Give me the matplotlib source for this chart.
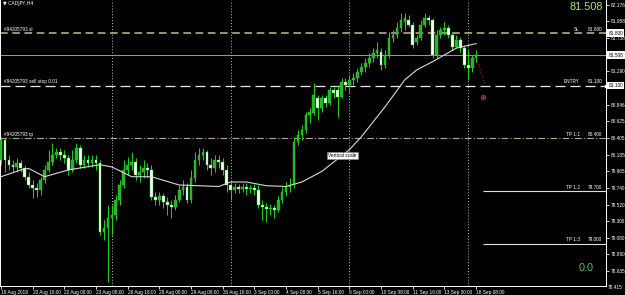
import matplotlib
matplotlib.use("Agg")
import matplotlib.pyplot as plt
import matplotlib.transforms as mtransforms
import numpy as np

# ---------------- data ----------------
symbol_label = "\u25bc CADJPY,H4"
order_id = "#94205793"

opens = [80.11, 80.38, 80.11, 80.05, 80.02, 80.07, 80.01, 79.89, 79.78, 79.74,
         79.71, 79.85, 79.98, 80.09, 80.18, 80.22, 80.18, 80.14, 79.98, 80.11,
         80.27, 80.05, 80.11, 80.07, 80.11, 80.07, 79.15, 79.21, 79.34, 79.38,
         79.58, 79.78, 79.98, 80.05, 80.09, 79.91, 79.95, 80.01, 79.98, 79.62,
         79.58, 79.63, 79.55, 79.51, 79.49, 79.58, 79.71, 79.75, 79.58, 79.87,
         80.11, 80.18, 80.22, 80.05, 80.01, 80.11, 80.09, 79.98, 79.78, 79.71,
         79.75, 79.73, 79.75, 79.73, 79.74, 79.71, 79.51, 79.49, 79.46, 79.47,
         79.45, 79.58, 79.69, 79.75, 79.78, 80.35, 80.45, 80.51, 80.71, 80.74,
         80.94, 80.80, 80.94, 80.87, 81.04, 81.04, 80.95, 81.15, 81.11, 81.18,
         81.20, 81.28, 81.35, 81.40, 81.47, 81.54, 81.55, 81.38, 81.51, 81.73,
         81.77, 81.87, 81.95, 81.97, 81.91, 81.68, 81.73, 81.91, 82.00, 81.97,
         81.51, 81.77, 81.84, 81.87, 81.77, 81.62, 81.71, 81.60, 81.38, 81.34,
         81.47]
highs = [80.42, 80.42, 80.18, 80.11, 80.14, 80.11, 80.05, 79.95, 79.85, 79.81,
         79.89, 80.05, 80.25, 80.34, 80.27, 80.27, 80.25, 80.18, 80.25, 80.34,
         80.31, 80.18, 80.18, 80.18, 80.18, 80.11, 79.31, 79.51, 79.51, 79.65,
         79.85, 80.11, 80.15, 80.22, 80.14, 80.05, 80.11, 80.07, 80.05, 79.69,
         79.69, 79.67, 79.62, 79.58, 79.65, 79.78, 79.85, 79.81, 79.98, 80.22,
         80.27, 80.27, 80.25, 80.14, 80.18, 80.18, 80.14, 80.05, 79.82, 79.81,
         79.79, 79.81, 79.81, 79.78, 79.79, 79.78, 79.58, 79.54, 79.53, 79.51,
         79.63, 79.75, 79.82, 79.87, 80.42, 80.51, 80.58, 80.75, 80.80, 81.14,
         80.98, 80.98, 80.98, 81.08, 81.08, 81.11, 81.20, 81.20, 81.24, 81.27,
         81.34, 81.40, 81.47, 81.54, 81.60, 81.68, 81.60, 81.58, 81.81, 81.84,
         81.95, 82.07, 82.07, 82.04, 81.95, 81.77, 81.97, 82.07, 82.04, 82.00,
         81.84, 81.88, 81.95, 81.91, 81.81, 81.77, 81.75, 81.64, 81.58, 81.51,
         81.58]
lows = [80.05, 79.95, 79.98, 79.95, 79.95, 79.95, 79.85, 79.74, 79.61, 79.62,
        79.65, 79.81, 79.95, 80.05, 80.14, 80.11, 80.07, 79.91, 79.95, 80.07,
        80.01, 80.01, 80.02, 80.02, 79.98, 79.11, 79.05, 78.49, 79.11, 79.31,
        79.51, 79.74, 79.91, 79.98, 79.85, 79.82, 79.87, 79.87, 79.58, 79.51,
        79.51, 79.47, 79.38, 79.34, 79.45, 79.55, 79.65, 79.54, 79.54, 79.82,
        80.05, 80.11, 79.98, 79.91, 79.95, 80.01, 79.91, 79.69, 79.58, 79.67,
        79.67, 79.69, 79.65, 79.67, 79.65, 79.47, 79.31, 79.29, 79.38, 79.34,
        79.42, 79.54, 79.63, 79.69, 79.74, 80.31, 80.38, 80.47, 80.60, 80.71,
        80.64, 80.75, 80.82, 80.84, 80.94, 80.68, 80.94, 81.04, 81.02, 81.11,
        81.15, 81.24, 81.28, 81.35, 81.42, 81.47, 81.31, 81.34, 81.47, 81.68,
        81.73, 81.81, 81.84, 81.88, 81.60, 81.64, 81.71, 81.88, 81.91, 81.47,
        81.47, 81.73, 81.77, 81.73, 81.58, 81.60, 81.55, 81.34, 81.18, 81.28,
        81.42]
closes = [80.38, 80.11, 80.05, 80.02, 80.07, 80.01, 79.89, 79.78, 79.74, 79.71,
          79.85, 79.98, 80.09, 80.18, 80.22, 80.18, 80.14, 79.98, 80.11, 80.27,
          80.05, 80.11, 80.07, 80.11, 80.07, 79.15, 79.21, 79.34, 79.38, 79.58,
          79.78, 79.98, 80.05, 80.09, 79.91, 79.95, 80.01, 79.98, 79.62, 79.58,
          79.63, 79.55, 79.51, 79.49, 79.58, 79.71, 79.75, 79.58, 79.87, 80.11,
          80.18, 80.22, 80.05, 80.01, 80.11, 80.09, 79.98, 79.78, 79.71, 79.75,
          79.73, 79.75, 79.73, 79.74, 79.71, 79.51, 79.49, 79.46, 79.47, 79.45,
          79.58, 79.69, 79.75, 79.78, 80.35, 80.45, 80.51, 80.71, 80.75, 80.98,
          80.80, 80.94, 80.87, 81.04, 81.00, 80.95, 81.15, 81.11, 81.18, 81.20,
          81.28, 81.35, 81.40, 81.47, 81.54, 81.58, 81.38, 81.51, 81.73, 81.77,
          81.87, 81.97, 82.00, 81.91, 81.64, 81.73, 81.91, 82.00, 81.97, 81.51,
          81.77, 81.84, 81.87, 81.77, 81.62, 81.71, 81.60, 81.38, 81.34, 81.47,
          81.508]

ma_bars = [0, 5, 7, 11, 17, 25, 28, 33, 38, 45, 55, 58, 62, 67, 72, 76, 81,
           88, 91, 97, 102, 105, 109, 115, 120]
ma_values = [79.89, 79.98, 80.00, 79.89, 79.98, 80.05, 80.02, 79.89, 79.89,
             79.78, 79.76, 79.82, 79.82, 79.77, 79.76, 79.82, 79.96, 80.25,
             80.42, 80.82, 81.18, 81.31, 81.42, 81.60, 81.66]

x_tick_bars = [0, 8, 16, 24, 32, 40, 48, 56, 64, 72, 80, 88, 96, 104, 112, 120]
x_tick_labels = ["19 Aug 2019", "20 Aug 16:00", "22 Aug 00:00", "23 Aug 08:00",
                 "26 Aug 16:00", "28 Aug 00:00", "29 Aug 08:00", "30 Aug 16:00",
                 "3 Sep 00:00", "4 Sep 08:00", "5 Sep 16:00", "9 Sep 00:00",
                 "10 Sep 08:00", "11 Sep 16:00", "13 Sep 00:00", "16 Sep 08:00"]
separator_bars = [28, 58, 88, 118]

y_tick_values = [82.176, 81.958, 81.738, 81.290, 80.846, 80.625, 80.405,
                 80.185, 79.965, 79.740, 79.520, 79.300, 79.080, 78.860, 78.635]
y_bottom_tick = 78.415

sl_price = 81.800
entry_price = 81.100
tp_prices = [80.400, 79.700, 79.000]
tp_names = ["TP 1:1", "TP 1:2", "TP 1:3"]
bid_price = 81.508
profit_text = "0.0"

proj_bars = [120.2, 122.2]
proj_prices = [81.46, 81.12]
target_bar = 121.8
target_price = 80.95
tp_line_start_bar = 121.7

# ---------------- figure ----------------
W, H = 625, 295
fig = plt.figure(figsize=(W / 100, H / 100), dpi=100, facecolor="black")
ax = fig.add_axes([0, 9 / H, 606 / W, 286 / H], facecolor="black")

FONT = "Liberation Sans"
small = 3.4
wick_c = "#19d619"
bull_c = "#2fae2f"
bear_c = "#ffffff"

o = np.array(opens); h = np.array(highs); l = np.array(lows); c = np.array(closes)
idx = np.arange(len(o))

# separators
for b in separator_bars:
    ax.axvline(b, color="#bfbfbf", ls=(0, (1, 2)), lw=0.7, zorder=1)

# horizontal order lines
trans = mtransforms.blended_transform_factory(ax.transAxes, ax.transData)
ax.axhline(sl_price, color="#c9b98f", ls=(0, (5, 3)), lw=1.1, zorder=1)
ax.axhline(bid_price, color="#9a9a9a", lw=0.7, zorder=1)
ax.axhline(entry_price, color="#e8e8e8", ls=(0, (8, 4)), lw=0.9, zorder=1)
ax.axhline(tp_prices[0], color="#b8a978", ls=(0, (6, 2, 1, 2)), lw=0.8, zorder=1)
for p in tp_prices[1:]:
    ax.hlines(p, tp_line_start_bar, 200, color="#e0e0e0", lw=0.8, zorder=1)

# candles
ax.vlines(idx, l, h, color=wick_c, lw=0.7, zorder=3)
bull = c >= o
bear = ~bull
ax.bar(idx[bull], np.maximum(c[bull] - o[bull], 0.006), bottom=o[bull], width=0.68,
       color=bull_c, edgecolor=wick_c, lw=0.3, zorder=4)
ax.bar(idx[bear], np.maximum(o[bear] - c[bear], 0.006), bottom=c[bear], width=0.68,
       color=bear_c, edgecolor=wick_c, lw=0.3, zorder=4)

# moving average
ax.plot(ma_bars, ma_values, color="#d8d8d8", lw=0.8, zorder=5)

# projection
ax.plot(proj_bars, proj_prices, color="#b01818", ls=(0, (1, 1.5)), lw=0.8, zorder=5)
ax.plot([target_bar], [target_price], "o", ms=3.2, mfc="none", mec="#c02828", mew=0.7, zorder=5)
ax.plot([target_bar], [target_price], "o", ms=1.0, color="#c02828", zorder=5)

# limits
ax.yaxis.tick_right()
ax.set_yticks(y_tick_values, labels=[f"{v:.3f}" for v in y_tick_values])
ax.set_xticks(x_tick_bars, labels=x_tick_labels)
ax.set_xlim(-0.25, 152.8)
ax.set_ylim(82.24 - 286 / 75.2, 82.24)

ax.tick_params(axis="y", colors="white", labelsize=small, length=2, width=0.6, pad=1.2,
               direction="out")
ax.tick_params(axis="x", colors="white", labelsize=small, length=2, width=0.6, pad=0.8,
               direction="out")
for t in ax.get_xticklabels():
    t.set_ha("left")
    t.set_fontfamily(FONT)
for t in ax.get_yticklabels():
    t.set_fontfamily(FONT)

for s in ["top"]:
    ax.spines[s].set_visible(False)
for s in ["left", "right", "bottom"]:
    ax.spines[s].set_color("white")
    ax.spines[s].set_linewidth(0.7)

# bottom price label (just below plot edge)
ax.text(1.0 + 2 / 606, y_bottom_tick, f"{y_bottom_tick:.3f}", transform=trans, fontsize=small,
        color="white", va="center", ha="left", family=FONT, clip_on=False)

# boxed price labels on axis
for p in [sl_price, bid_price, entry_price]:
    ax.text(1.0 + 2.5 / 606, p, f"{p:.3f}", transform=trans, fontsize=small, color="black",
            va="center", ha="left", family=FONT, clip_on=False,
            bbox=dict(boxstyle="square,pad=0.25", fc="white", ec="white", lw=0))
ax.plot([1.0], [entry_price], "s", transform=trans, ms=1.6, color="white", clip_on=False)

# left order labels
ax.text(4 / 606, sl_price + 0.02, f"{order_id} sl", transform=trans, fontsize=small,
        color="white", va="bottom", ha="left", family=FONT)
ax.text(4 / 606, entry_price + 0.02, f"{order_id} sell stop 0.01", transform=trans,
        fontsize=small, color="white", va="bottom", ha="left", family=FONT)
ax.text(4 / 606, tp_prices[0] + 0.02, f"{order_id} tp", transform=trans, fontsize=small,
        color="white", va="bottom", ha="left", family=FONT)

# right order labels
right_labels = [("SL", sl_price), ("ENTRY", entry_price)] + list(zip(tp_names, tp_prices))
for name, p in right_labels:
    ax.text(580 / 606, p + 0.02, name, transform=trans, fontsize=small, color="white",
            va="bottom", ha="right", family=FONT)
    ax.text(602 / 606, p + 0.02, f"{p:.3f}", transform=trans, fontsize=small, color="white",
            va="bottom", ha="right", family=FONT)

# big texts
ax.text(603 / 606, 1 - 2.5 / 286, f"{bid_price:.3f}", transform=ax.transAxes, fontsize=7.8,
        color="#a6ee5c", va="top", ha="right", family=FONT)
ax.text(594 / 606, 1 - 273 / 286, profit_text, transform=ax.transAxes, fontsize=7.8,
        color="#3cd23c", va="bottom", ha="right", family=FONT)

# title
fig.text(3 / W, 1 - 4 / H, symbol_label, fontsize=small, color="white", va="center",
         ha="left", family=["DejaVu Sans"])

# tooltip
fig.text(328 / W, 1 - 155.5 / H, "Vertical scale", fontsize=small, color="black",
         va="center", ha="left", family=FONT,
         bbox=dict(boxstyle="square,pad=0.3", fc="white", ec="#888888", lw=0.4))

fig.savefig("out.png", dpi=100, facecolor="black")
